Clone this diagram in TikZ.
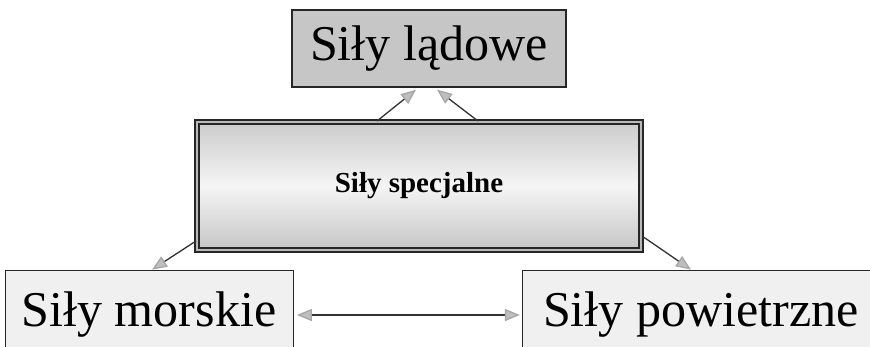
\documentclass[tikz,border=0pt]{standalone}
\usepackage{fontspec}
\setmainfont{Liberation Serif}
\usetikzlibrary{arrows.meta,positioning,calc}

\begin{document}
\begin{tikzpicture}[
  big/.style={font=\fontsize{28.5}{30}\selectfont, inner sep=0pt},
  branch/.style={draw=black!85, fill=gray!12, big},
  tip/.style={Triangle[length=0.3cm,width=0.24cm,fill=gray!50,color=gray!70]},
  link/.style={draw=black!80, line width=0.75pt, -{Triangle[length=0.3cm,width=0.24cm,fill=gray!50,color=gray!70]}},
  both/.style={draw=black!80, line width=0.75pt,
               {Triangle[length=0.3cm,width=0.24cm,fill=gray!50,color=gray!70]}-{Triangle[length=0.3cm,width=0.24cm,fill=gray!50,color=gray!70]}}
]
\useasboundingbox (0,0) rectangle (17.4,-6.92);
\node[draw=black!85, line width=0.8pt, fill=gray!45, big,
      minimum width=5.48cm, minimum height=1.54cm] (land) at (8.58,-0.97)
  {Siły lądowe};
\node[draw=black!85, line width=1.1pt, double=gray!55, double distance=1.4pt,
      top color=gray!40, bottom color=gray!45, middle color=gray!8,
      minimum width=8.88cm, minimum height=2.56cm,
      font=\fontsize{16.5}{18}\selectfont\bfseries] (spec) at (8.38,-3.72)
  {Siły specjalne};
\node[branch, minimum width=5.76cm, minimum height=1.8cm] (sea) at (2.98,-6.3)
  {Siły morskie};
\node[branch, minimum width=7.16cm, minimum height=1.8cm] (air) at (14.02,-6.3)
  {Siły powietrzne};
% ends of the connectors
\coordinate (s1) at ($(spec.north)+(-0.84,0)$);
\coordinate (s2) at ($(spec.north)+(1.18,0)$);
\coordinate (l1) at ($(land.south)+(-0.26,-0.04)$);
\coordinate (l2) at ($(land.south)+(0.16,-0.04)$);
\coordinate (s3) at ($(spec.south west)+(0,0.2)$);
\coordinate (s4) at ($(spec.south east)+(0,0.3)$);
\coordinate (m1) at ($(sea.north)+(0.06,0)$);
\coordinate (a1) at ($(air.north)+(-0.2,0)$);
\draw[link] (s1) -- (l1);
\draw[link] (s2) -- (l2);
\draw[link] (s3) -- (m1);
\draw[link] (s4) -- (a1);
\draw[both, shorten <=2pt, shorten >=1pt] (sea.east) -- (air.west);
\end{tikzpicture}
\end{document}
